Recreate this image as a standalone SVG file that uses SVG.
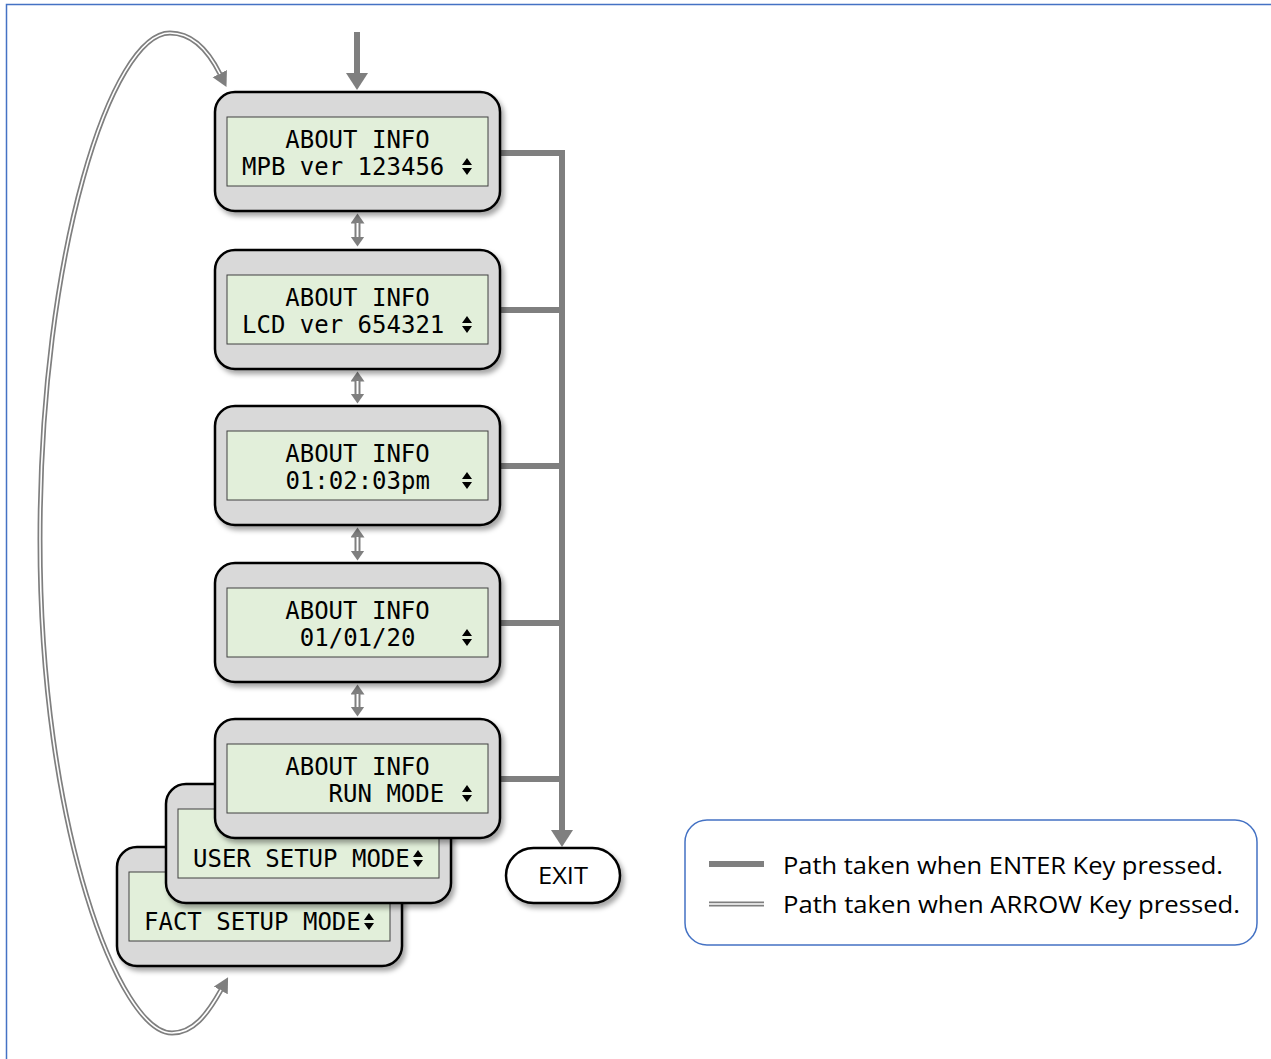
<svg xmlns="http://www.w3.org/2000/svg" width="1271" height="1059" viewBox="0 0 1271 1059">
<style>
.card{fill:#d9d9d9;stroke:#000;stroke-width:2.5}
.lcd{fill:#e2efda;stroke:#404040;stroke-width:1}
.mono{font-family:"DejaVu Sans Mono","Liberation Mono",monospace;font-size:24px;fill:#000}
.sans{font-family:"Open Sans","Noto Sans","Liberation Sans",sans-serif;fill:#000}
.enter{stroke:#7f7f7f;stroke-width:6;fill:none}
.arrG{stroke:#7f7f7f;stroke-width:5;fill:none}
.arrW{stroke:#fff;stroke-width:1.6;fill:none}
.sG{stroke:#7f7f7f;stroke-width:6;fill:none}
.sW{stroke:#fff;stroke-width:2;fill:none}
.head{fill:#7f7f7f}
.ud{fill:#000}
</style>
<defs>
<filter id="sh" x="-10%" y="-10%" width="130%" height="140%">
<feDropShadow dx="3" dy="4" stdDeviation="2.5" flood-color="#000" flood-opacity="0.35"/>
</filter>
<marker id="ah" markerUnits="userSpaceOnUse" markerWidth="18" markerHeight="18" refX="0.5" refY="8" orient="auto-start-reverse">
<path d="M0,0 L15,8 L0,16 z" fill="#7f7f7f"/>
</marker>
<marker id="ahs" markerUnits="userSpaceOnUse" markerWidth="16" markerHeight="16" refX="0.5" refY="7" orient="auto-start-reverse">
<path d="M0,0 L10,7 L0,14 z" fill="#7f7f7f"/>
</marker>
<path id="ud" d="M-5,-10 L0,-17 L5,-10 z M-5,-7 L0,0 L5,-7 z"/>
</defs>
<rect x="6.5" y="4.5" width="1290" height="1080" fill="#fff" stroke="#4472c4" stroke-width="1.5"/>

<g id="connectors">
<path class="arrG" d="M220,74 C205,44 188,33 170,33 C112,33 40,250 40,540 C40,830 120,1033 172,1033 C193,1033 207,1015 221,990" marker-start="url(#ah)" marker-end="url(#ah)"/>
<path class="arrW" d="M220,74 C205,44 188,33 170,33 C112,33 40,250 40,540 C40,830 120,1033 172,1033 C193,1033 207,1015 221,990"/>
<line class="enter" x1="357" y1="32" x2="357" y2="74"/>
<polygon class="head" points="346,73 368,73 357,90"/>
<line class="enter" x1="500" y1="153" x2="565" y2="153"/>
<line class="enter" x1="500" y1="310" x2="565" y2="310"/>
<line class="enter" x1="500" y1="466" x2="565" y2="466"/>
<line class="enter" x1="500" y1="623" x2="565" y2="623"/>
<line class="enter" x1="500" y1="779" x2="565" y2="779"/>
<line class="enter" x1="562" y1="150" x2="562" y2="831"/>
<polygon class="head" points="551,830 573,830 562,847"/>
<path class="sG" d="M357.5,223 V237" marker-start="url(#ahs)" marker-end="url(#ahs)"/>
<path class="sW" d="M357.5,223 V237"/>
<path class="sG" d="M357.5,381 V394" marker-start="url(#ahs)" marker-end="url(#ahs)"/>
<path class="sW" d="M357.5,381 V394"/>
<path class="sG" d="M357.5,537 V551" marker-start="url(#ahs)" marker-end="url(#ahs)"/>
<path class="sW" d="M357.5,537 V551"/>
<path class="sG" d="M357.5,694 V707" marker-start="url(#ahs)" marker-end="url(#ahs)"/>
<path class="sW" d="M357.5,694 V707"/>
</g>

<g id="node-fact" transform="translate(117,847)">
<rect class="card" width="285" height="119" rx="20" filter="url(#sh)"/>
<rect class="lcd" x="12" y="25" width="261" height="69"/>
<text class="mono" x="142.5" y="55" text-anchor="middle">ABOUT INFO</text>
<text class="mono" x="27" y="83">FACT SETUP MODE</text>
<use href="#ud" x="252" y="83" class="ud"/>
</g>

<g id="node-user" transform="translate(166,784)">
<rect class="card" width="285" height="119" rx="20" filter="url(#sh)"/>
<rect class="lcd" x="12" y="25" width="261" height="69"/>
<text class="mono" x="142.5" y="55" text-anchor="middle">ABOUT INFO</text>
<text class="mono" x="27" y="83">USER SETUP MODE</text>
<use href="#ud" x="252" y="83" class="ud"/>
</g>

<g id="node-mpb" transform="translate(215,92)">
<rect class="card" width="285" height="119" rx="20" filter="url(#sh)"/>
<rect class="lcd" x="12" y="25" width="261" height="69"/>
<text class="mono" x="142.5" y="56" text-anchor="middle">ABOUT INFO</text>
<text class="mono" x="27" y="83">MPB ver 123456</text>
<use href="#ud" x="252" y="83" class="ud"/>
</g>

<g id="node-lcd" transform="translate(215,250)">
<rect class="card" width="285" height="119" rx="20" filter="url(#sh)"/>
<rect class="lcd" x="12" y="25" width="261" height="69"/>
<text class="mono" x="142.5" y="56" text-anchor="middle">ABOUT INFO</text>
<text class="mono" x="27" y="83">LCD ver 654321</text>
<use href="#ud" x="252" y="83" class="ud"/>
</g>

<g id="node-time" transform="translate(215,406)">
<rect class="card" width="285" height="119" rx="20" filter="url(#sh)"/>
<rect class="lcd" x="12" y="25" width="261" height="69"/>
<text class="mono" x="142.5" y="56" text-anchor="middle">ABOUT INFO</text>
<text class="mono" x="70.4" y="83">01:02:03pm</text>
<use href="#ud" x="252" y="83" class="ud"/>
</g>

<g id="node-date" transform="translate(215,563)">
<rect class="card" width="285" height="119" rx="20" filter="url(#sh)"/>
<rect class="lcd" x="12" y="25" width="261" height="69"/>
<text class="mono" x="142.5" y="56" text-anchor="middle">ABOUT INFO</text>
<text class="mono" x="84.8" y="83">01/01/20</text>
<use href="#ud" x="252" y="83" class="ud"/>
</g>

<g id="node-run" transform="translate(215,719)">
<rect class="card" width="285" height="119" rx="20" filter="url(#sh)"/>
<rect class="lcd" x="12" y="25" width="261" height="69"/>
<text class="mono" x="142.5" y="56" text-anchor="middle">ABOUT INFO</text>
<text class="mono" x="113.6" y="83">RUN MODE</text>
<use href="#ud" x="252" y="83" class="ud"/>
</g>

<g id="node-exit">
<rect x="506" y="848" width="114" height="55" rx="27.5" fill="#fff" stroke="#000" stroke-width="2.5" filter="url(#sh)"/>
<text class="sans" x="563" y="884" font-size="24" text-anchor="middle" textLength="50" lengthAdjust="spacingAndGlyphs">EXIT</text>
</g>

<g id="legend">
<rect x="685" y="820" width="572" height="125" rx="22" fill="#fff" stroke="#4472c4" stroke-width="1.5"/>
<line x1="709" y1="864" x2="764" y2="864" stroke="#7f7f7f" stroke-width="6"/>
<line x1="709" y1="904" x2="764" y2="904" stroke="#7f7f7f" stroke-width="5"/>
<line x1="709" y1="904" x2="764" y2="904" stroke="#fff" stroke-width="1.6"/>
<text class="sans" x="783" y="874" font-size="23" textLength="440" lengthAdjust="spacingAndGlyphs">Path taken when ENTER Key pressed.</text>
<text class="sans" x="783" y="913" font-size="23" textLength="457" lengthAdjust="spacingAndGlyphs">Path taken when ARROW Key pressed.</text>
</g>
</svg>
